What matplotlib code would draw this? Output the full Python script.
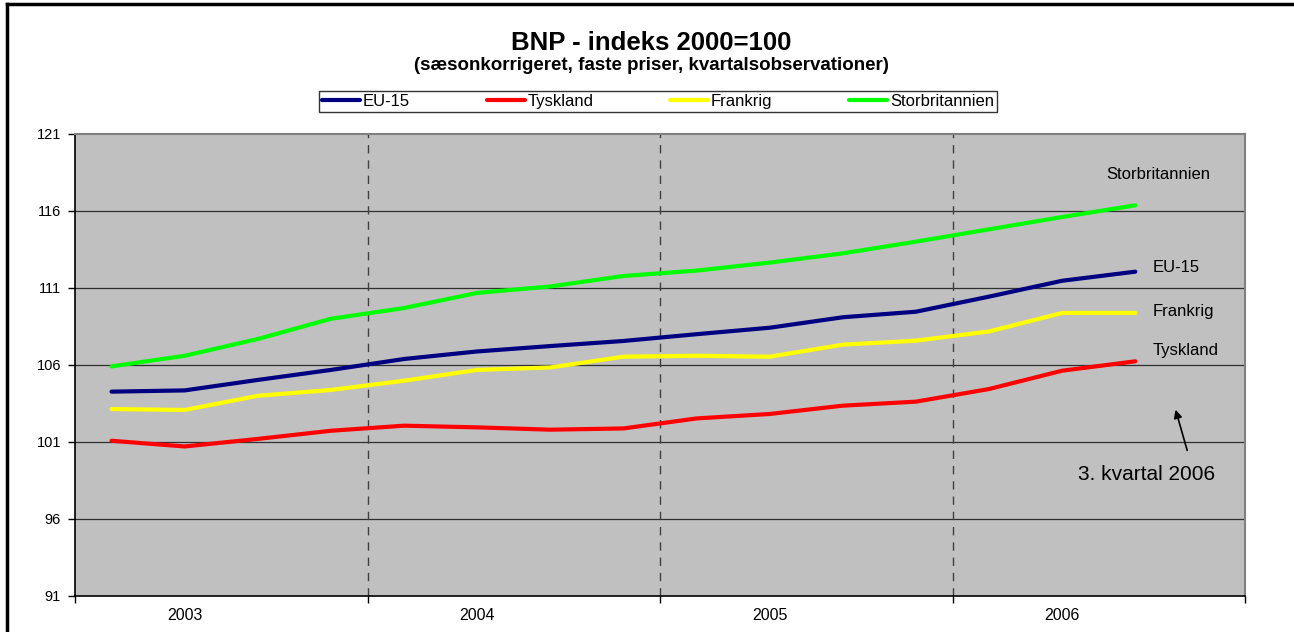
"""
plot.py — BNP-indeks 2000=100, kvartalsdata 2003-2006.
"""

import matplotlib
matplotlib.use("Agg")
import matplotlib.pyplot as plt
from matplotlib.lines import Line2D

plt.rcParams["font.family"] = ["Liberation Sans", "DejaVu Sans"]

# Kvartalsobservationer 2003K1 - 2006K3
years = ["2003", "2004", "2005", "2006"]
quarters_per_year = 4
eu15 = [104.27, 104.35, 105.03, 105.68, 106.39, 106.88, 107.23, 107.56,
        108.00, 108.42, 109.10, 109.46, 110.44, 111.47, 112.06]
tyskland = [101.08, 100.71, 101.20, 101.73, 102.06, 101.95, 101.80, 101.88,
            102.53, 102.82, 103.36, 103.62, 104.44, 105.63, 106.24]
frankrig = [103.14, 103.08, 104.00, 104.38, 104.98, 105.68, 105.84, 106.54,
            106.60, 106.54, 107.32, 107.58, 108.18, 109.38, 109.38]
storbritannien = [105.91, 106.60, 107.69, 109.00, 109.70, 110.68, 111.10, 111.78,
                  112.13, 112.65, 113.25, 114.01, 114.81, 115.61, 116.37]
y_ticks = [91, 96, 101, 106, 111, 116, 121]

series = [
    ("EU-15", eu15, "#000080"),
    ("Tyskland", tyskland, "#FF0000"),
    ("Frankrig", frankrig, "#FFFF00"),
    ("Storbritannien", storbritannien, "#00FF00"),
]

W, H = 1294, 632
fig = plt.figure(figsize=(W / 100, H / 100), dpi=100)
ax = fig.add_axes([75 / W, 1 - 596 / H, 1170 / W, 462 / H])
ax.set_facecolor("#C0C0C0")

n_slots = len(years) * quarters_per_year
for name, vals, col in series:
    x = [i + 0.5 for i in range(len(vals))]
    ax.plot(x, vals, color=col, lw=3.0, label=name, solid_capstyle="round",
            zorder=3)

ax.set_xlim(0, n_slots)
ax.set_ylim(y_ticks[0], y_ticks[-1])

# horisontale gitterlinjer
for yv in y_ticks[1:-1]:
    ax.axhline(yv, color="#303030", lw=0.9, zorder=1)
# stiplede årsskel
for k in range(1, len(years)):
    ax.axvline(k * quarters_per_year, color="#404040", lw=1.0,
               dashes=(6, 5), zorder=1)

ax.set_yticks(y_ticks)
ax.set_xticks([k * quarters_per_year for k in range(len(years) + 1)])
ax.set_xticklabels([])
# årstal står ud for andet kvartal, som i Excel-forlægget
ax.set_xticks([k * quarters_per_year + 1.5 for k in range(len(years))],
              minor=True)
ax.set_xticklabels(years, minor=True)
ax.tick_params(axis="x", which="major", direction="out", length=5, width=1)
ax.tick_params(axis="x", which="minor", length=0, pad=9, labelsize=11.5)
ax.tick_params(axis="y", direction="out", length=5, width=1, pad=5,
               labelsize=10.5)

for side in ("left", "bottom"):
    ax.spines[side].set_color("black")
    ax.spines[side].set_linewidth(1.2)
for side in ("top", "right"):
    ax.spines[side].set_color("#808080")
    ax.spines[side].set_linewidth(1.5)

# etiketter ved linjernes ende
ax.text(14.81, 118.34, "Storbritannien", ha="center", va="center", fontsize=12)
ax.text(14.73, 112.36, "EU-15", ha="left", va="center", fontsize=12)
ax.text(14.73, 109.50, "Frankrig", ha="left", va="center", fontsize=12)
ax.text(14.73, 106.97, "Tyskland", ha="left", va="center", fontsize=12)
ax.annotate("", xy=(15.04, 103.27), xytext=(15.22, 100.28),
            arrowprops=dict(arrowstyle="-|>", color="black", lw=1.2,
                            mutation_scale=12))
ax.text(13.72, 98.86, "3. kvartal 2006", ha="left", va="center", fontsize=15)

# titler
fig.text(651 / W, 1 - 43 / H, "BNP - indeks 2000=100", ha="center",
         va="center", fontsize=18.5, fontweight="bold")
fig.text(651 / W, 1 - 65 / H,
         "(sæsonkorrigeret, faste priser, kvartalsobservationer)",
         ha="center", va="center", fontsize=13.5, fontweight="bold")

leg = fig.legend(loc="center", bbox_to_anchor=(658 / W, 1 - 101.5 / H),
                 ncol=4, fontsize=12, frameon=True, fancybox=False,
                 handlelength=2.3, handletextpad=0.15, columnspacing=4.6,
                 borderpad=0.2, borderaxespad=0)
leg.get_frame().set_edgecolor("black")
leg.get_frame().set_linewidth(1.0)

# ramme (kun top og venstre er synlige i udsnittet)
fig.add_artist(Line2D([7 / W, 7 / W], [0, 1 - 4 / H], transform=fig.transFigure,
                      color="black", lw=2.5))
fig.add_artist(Line2D([7 / W, 1], [1 - 4 / H, 1 - 4 / H],
                      transform=fig.transFigure, color="black", lw=2.5))

fig.savefig("out.png", dpi=100)
